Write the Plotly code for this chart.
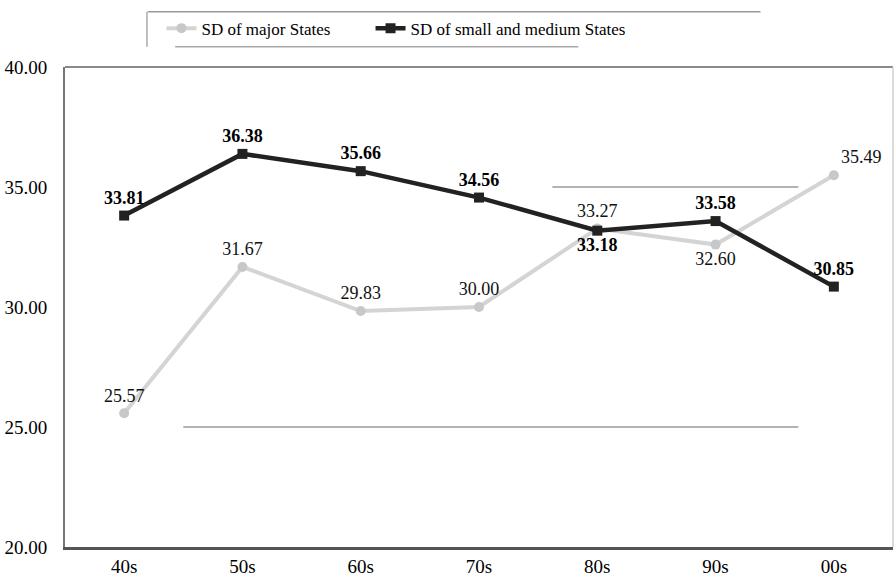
import plotly.graph_objects as go

decades = ["40s", "50s", "60s", "70s", "80s", "90s", "00s"]
sd_major = [25.57, 31.67, 29.83, 30.00, 33.27, 32.60, 35.49]
sd_small_medium = [33.81, 36.38, 35.66, 34.56, 33.18, 33.58, 30.85]
y_ticks = [20, 25, 30, 35, 40]

FONT = "Liberation Serif"

major_pos = ["top center", "top center", "top center", "top center",
             "top center", "bottom center", "top right"]
small_pos = ["top center", "top center", "top center", "top center",
             "bottom center", "top center", "top center"]

fig = go.Figure()
fig.add_trace(go.Scatter(
    x=decades, y=sd_major, name="SD of major States",
    mode="lines+markers+text", legend="legend",
    line=dict(color="#d4d4d4", width=4),
    marker=dict(symbol="circle", size=10, color="#c8c8c8"),
    texttemplate="%{y:.2f}", textposition=major_pos,
    textfont=dict(family=FONT, size=18, color="#111"),
))
fig.add_trace(go.Scatter(
    x=decades, y=sd_small_medium, name="SD of small and medium States",
    mode="lines+markers+text", legend="legend2",
    line=dict(color="#222222", width=4.5),
    marker=dict(symbol="square", size=10, color="#222222"),
    texttemplate="<b>%{y:.2f}</b>", textposition=small_pos,
    textfont=dict(family=FONT, size=18, color="#000"),
))

shapes = [
    dict(type="line", xref="x", yref="y", x0=0.5, x1=5.7, y0=25, y1=25,
         line=dict(color="#9a9a9a", width=1.5)),
    dict(type="line", xref="x", yref="y", x0=3.62, x1=5.7, y0=35, y1=35,
         line=dict(color="#9a9a9a", width=1.5)),
    dict(type="line", xref="paper", yref="paper", x0=0, x1=1, y0=1, y1=1,
         line=dict(color="#8a8a8a", width=2)),
    dict(type="line", xref="paper", yref="paper", x0=1, x1=1, y0=0, y1=1,
         line=dict(color="#d0d0d0", width=1.5)),
    dict(type="line", xref="paper", yref="paper", x0=0.10, x1=0.84, y0=1.115, y1=1.115,
         line=dict(color="#999999", width=1.5)),
    dict(type="line", xref="paper", yref="paper", x0=0.099, x1=0.099, y0=1.042, y1=1.115,
         line=dict(color="#aaaaaa", width=1.5)),
    dict(type="line", xref="paper", yref="paper", x0=0.133, x1=0.62, y0=1.042, y1=1.042,
         line=dict(color="#aaaaaa", width=1.5)),
]

legend_common = dict(orientation="h", xanchor="left", y=1.08, yanchor="middle",
                     font=dict(family=FONT, size=17, color="#000"),
                     bgcolor="rgba(0,0,0,0)", itemwidth=30)

fig.update_layout(
    width=896, height=585,
    margin=dict(l=65, r=3, t=67, b=38),
    paper_bgcolor="white", plot_bgcolor="white",
    font=dict(family=FONT, size=18, color="#000"),
    showlegend=True,
    legend=dict(x=0.1165, **legend_common),
    legend2=dict(x=0.369, **legend_common),
    shapes=shapes,
    xaxis=dict(showgrid=False, showline=True, linecolor="#555555", linewidth=2.5,
               ticks="", tickfont=dict(family=FONT, size=19, color="#000"),
               range=[-0.5, 6.5], zeroline=False),
    yaxis=dict(range=[20, 40], tickvals=y_ticks, tickformat=".2f",
               showgrid=False, showline=True, linecolor="#777777", linewidth=2,
               ticks="", ticklabelstandoff=12,
               tickfont=dict(family=FONT, size=19, color="#000"),
               zeroline=False),
)

fig.write_html("out.html")
